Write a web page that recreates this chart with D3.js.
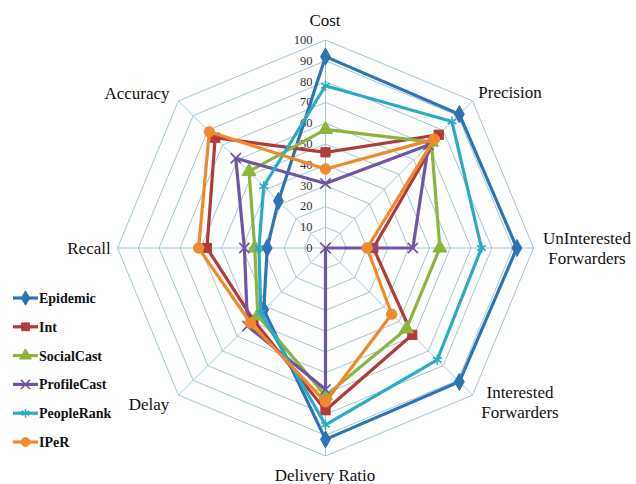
<!DOCTYPE html>
<html><head><meta charset="utf-8">
<script src="https://cdn.jsdelivr.net/npm/d3@7/dist/d3.min.js"></script>
<style>body{margin:0;background:#fff}svg{display:block}text{font-family:"Liberation Serif","Times New Roman",serif}</style>
</head><body>
<svg id="c" width="636" height="484"></svg>
<script>
const axes = ["Cost","Precision","UnInterested Forwarders","Interested Forwarders","Delivery Ratio","Delay","Recall","Accuracy"];
const ticks = [0,10,20,30,40,50,60,70,80,90,100];
const seriesNames = ["Epidemic","Int","SocialCast","ProfileCast","PeopleRank","IPeR"];
const epidemic    = [92, 91, 92, 91, 92, 42, 28, 32];
const intS        = [46, 77, 23, 59, 78, 49, 57, 75];
const socialCast  = [57, 72, 55, 55, 71, 46, 34, 52];
const profileCast = [31, 70, 42, 0, 68, 53, 39, 61];
const peopleRank  = [78, 86, 75, 76, 85, 44, 32, 42];
const iper        = [38, 74, 20, 45, 74, 51, 61, 79];

const seriesData = [epidemic, intS, socialCast, profileCast, peopleRank, iper];
const colors = ["#2E74B5","#B23A3A","#8CB43F","#6F55A3","#2BAAC6","#EE8A2C"];
const symbols = [d3.symbolDiamond, d3.symbolSquare, d3.symbolTriangle, d3.symbolX, d3.symbolAsterisk, d3.symbolCircle];
const stroked = [false,false,false,true,true,false];

const svg = d3.select("#c");
const cx = 325.5, cy = 248;
const r = d3.scaleLinear().domain([0,100]).range([0,208]);
const ang = d3.scaleLinear().domain([0, axes.length]).range([0, 2*Math.PI]);
const pt = (i, v) => [cx + r(v)*Math.sin(ang(i)), cy - r(v)*Math.cos(ang(i))];
const FONT = "'Liberation Serif', 'Times New Roman', serif";

const grid = svg.append("g");
ticks.slice(1).forEach(t => {
  grid.append("polygon")
    .attr("points", axes.map((a,i)=>pt(i,t).join(",")).join(" "))
    .attr("fill","none").attr("stroke","#A2C6D6").attr("stroke-width",1);
});
axes.forEach((a,i)=>{
  const p = pt(i,100);
  grid.append("line").attr("x1",cx).attr("y1",cy).attr("x2",p[0]).attr("y2",p[1])
    .attr("stroke","#A2C6D6").attr("stroke-width",1);
});
svg.append("g").selectAll("text").data(ticks).join("text")
  .attr("x", cx-13).attr("y", d=>cy - r(d) + 4)
  .attr("text-anchor","end")
  .attr("font-family",FONT).attr("font-size",12.5).attr("fill","#333")
  .text(d=>d);

const labelPos = [
  {lines:["Cost"], x:325, y:26},
  {lines:["Precision"], x:510, y:98},
  {lines:["UnInterested","Forwarders"], x:587, y:244},
  {lines:["Interested","Forwarders"], x:520, y:398},
  {lines:["Delivery Ratio"], x:325, y:481},
  {lines:["Delay"], x:149, y:410},
  {lines:["Recall"], x:89, y:254},
  {lines:["Accuracy"], x:137, y:99}
];
labelPos.forEach((l,i)=>{
  const t = svg.append("text").attr("text-anchor","middle")
    .attr("font-family",FONT).attr("font-size",17).attr("fill","#111");
  l.lines.forEach((s,j)=>t.append("tspan").attr("x",l.x).attr("y",l.y + j*20).text(s));
});

const line = d3.line().curve(d3.curveLinearClosed);
seriesData.forEach((vals, k)=>{
  const pts = vals.map((v,i)=>pt(i,v));
  const g = svg.append("g");
  g.append("path").attr("d", line(pts)).attr("fill","none")
    .attr("stroke", colors[k]).attr("stroke-width",3.2).attr("stroke-linejoin","round");
  g.selectAll("path.m").data(pts).join("path").attr("class","m")
    .attr("transform", d=>`translate(${d[0]},${d[1]})`)
    .attr("d", d3.symbol(symbols[k], stroked[k]?70:85))
    .attr("fill", stroked[k]?"none":colors[k])
    .attr("stroke", colors[k]).attr("stroke-width", stroked[k]?1.6:1);
});

const leg = svg.append("g");
seriesNames.forEach((n,k)=>{
  const y = 298 + k*28.8;
  leg.append("line").attr("x1",13).attr("x2",38).attr("y1",y).attr("y2",y)
    .attr("stroke",colors[k]).attr("stroke-width",3.2);
  leg.append("path").attr("transform",`translate(25.5,${y})`)
    .attr("d", d3.symbol(symbols[k], stroked[k]?55:60))
    .attr("fill", stroked[k]?"none":colors[k])
    .attr("stroke", colors[k]).attr("stroke-width", stroked[k]?1.5:1);
  leg.append("text").attr("x",39).attr("y",y+5)
    .attr("font-family",FONT).attr("font-size",14).attr("font-weight","bold")
    .attr("fill","#111").text(n);
});
</script>
</body></html>
